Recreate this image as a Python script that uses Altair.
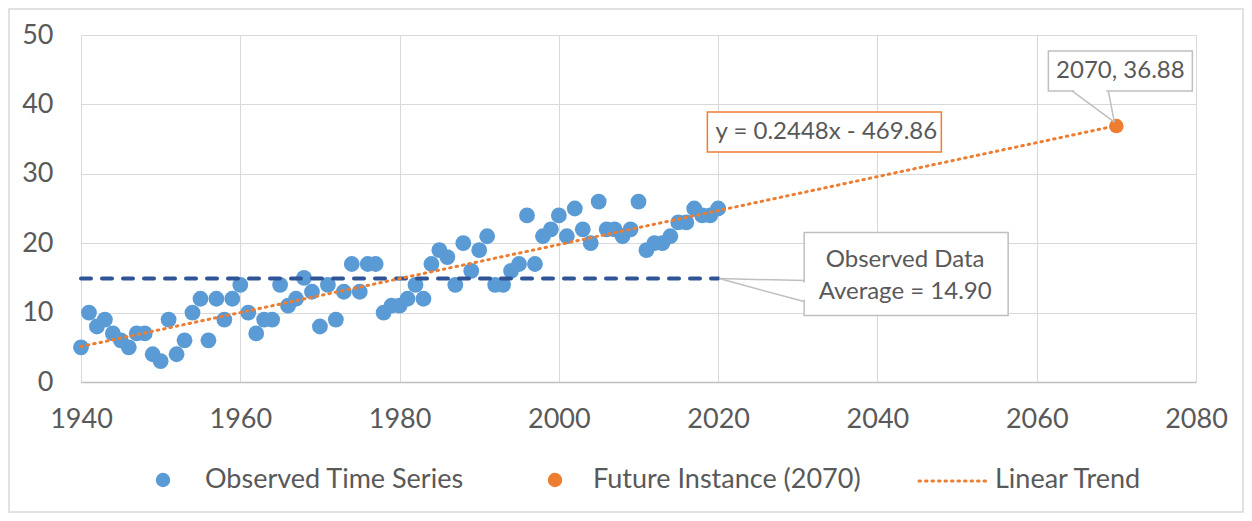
import altair as alt
import pandas as pd

# ---------------- data ----------------
years = list(range(1940, 2021))
values = [5, 10, 8, 9, 7, 6, 5, 7, 7, 4,
          3, 9, 4, 6, 10, 12, 6, 12, 9, 12,
          14, 10, 7, 9, 9, 14, 11, 12, 15, 13,
          8, 14, 9, 13, 17, 13, 17, 17, 10, 11,
          11, 12, 14, 12, 17, 19, 18, 14, 20, 16,
          19, 21, 14, 14, 16, 17, 24, 17, 21, 22,
          24, 21, 25, 22, 20, 26, 22, 22, 21, 22,
          26, 19, 20, 20, 21, 23, 23, 25, 24, 24, 25]
future_year = [2070]
future_value = [36.88]
series_names = ["Observed Time Series", "Future Instance (2070)", "Linear Trend"]
equation_text = "y = 0.2448x - 469.86"
avg_line1 = "Observed Data"
x_ticks = [1940, 1960, 1980, 2000, 2020, 2040, 2060, 2080]
y_ticks = [0, 10, 20, 30, 40, 50]

obs = pd.DataFrame({"year": years, "value": values})
fut = pd.DataFrame({"year": future_year, "value": future_value})
one = pd.DataFrame({"k": [0]})

# ---------------- styling ----------------
FONT = "Lato"
TXT = "#595959"
GRID = "#D9D9D9"
BLUE = "#5B9BD5"
ORANGE = "#ED7D31"
W, H = 1115, 347
FS = 24
AFS = 27
LFS = 27

xscale = alt.Scale(domain=[1940, 2080], nice=False, zero=False)
yscale = alt.Scale(domain=[0, 50], nice=False)
xaxis = alt.Axis(values=x_ticks, format="d", title=None, grid=True, gridColor=GRID,
                 ticks=False, domainColor="#BFBFBF", domainWidth=1.5, labelFontSize=AFS,
                 labelFont=FONT, labelColor=TXT, labelPadding=24, labelFlush=False)
yaxis = alt.Axis(values=y_ticks, title=None, grid=True, gridColor=GRID, ticks=False,
                 domain=False, labelFontSize=AFS, labelFont=FONT, labelColor=TXT,
                 labelPadding=28)


def X(f):
    return alt.X(f, scale=xscale, axis=xaxis, title=None)


def Y(f):
    return alt.Y(f, scale=yscale, axis=yaxis, title=None)


frame = alt.Chart(one).mark_rect(fill=None, stroke=GRID, strokeWidth=1.5).encode(
    x=alt.value(-72), x2=alt.value(1162), y=alt.value(-26), y2=alt.value(477))

points = alt.Chart(obs).mark_circle(size=250, opacity=1, color=BLUE).encode(
    x=X("year:Q"), y=Y("value:Q"))

avg_rule = alt.Chart(obs).mark_rule(color="#2F5597", strokeWidth=4, strokeDash=[10, 11],
                                    strokeCap="round").encode(
    x=X("min(year):Q"), x2="max(year):Q", y=Y("mean(value):Q"))

trend = alt.Chart(obs).transform_regression(
    "year", "value", method="linear", extent=[1940, 2070]
).mark_line(color=ORANGE, strokeWidth=3, strokeDash=[1.5, 5], strokeCap="round").encode(
    x=X("year:Q"), y=Y("value:Q"))

future = alt.Chart(fut).mark_circle(size=210, opacity=1, color=ORANGE).encode(
    x=X("year:Q"), y=Y("value:Q"))

# ---- callout for the future point ----
fut_lab = alt.Chart(fut).transform_calculate(
    label="format(datum.year, 'd') + ', ' + format(datum.value, '.2f')")
fenc = dict(x=X("year:Q"), x2="year:Q", y=Y("value:Q"), y2="value:Q")
fut_box = fut_lab.mark_rect(fill="white", stroke="#BFBFBF", strokeWidth=1.5,
                            xOffset=-68, x2Offset=76, yOffset=-75, y2Offset=-35).encode(**fenc)
fut_w1 = fut_lab.mark_rule(color="#BFBFBF", strokeWidth=1.5, xOffset=-2, yOffset=-4,
                           x2Offset=-44, y2Offset=-35).encode(**fenc)
fut_w2 = fut_lab.mark_rule(color="#BFBFBF", strokeWidth=1.5, xOffset=-2, yOffset=-4,
                           x2Offset=-8, y2Offset=-35).encode(**fenc)
fut_gap = fut_lab.mark_rule(color="white", strokeWidth=2.5, xOffset=-42, yOffset=-35,
                            x2Offset=-10, y2Offset=-35).encode(**fenc)
fut_text = fut_lab.mark_text(font=FONT, fontSize=FS, color=TXT, align="center",
                             baseline="middle", dx=4, dy=-55).encode(
    x=X("year:Q"), y=Y("value:Q"), text="label:N")

# ---- equation label (trendline label) ----
eq_box = alt.Chart(fut).mark_rect(fill="white", stroke=ORANGE, strokeWidth=1.5,
                                  xOffset=-409, x2Offset=-175, yOffset=-14, y2Offset=26).encode(**fenc)
eq_text = alt.Chart(fut).mark_text(font=FONT, fontSize=FS, color=TXT, align="center",
                                   baseline="middle", dx=-290, dy=6, text=equation_text).encode(
    x=X("year:Q"), y=Y("value:Q"))

# ---- callout for the average ----
avg_base = alt.Chart(obs).transform_aggregate(
    avg="mean(value)", end="max(year)"
).transform_calculate(
    line1=f"'{avg_line1}'",
    line2="'Average = ' + format(datum.avg, '.2f')")
enc_pt = dict(x=X("end:Q"), x2="end:Q", y=Y("avg:Q"), y2="avg:Q")
avg_box = avg_base.mark_rect(fill="white", stroke="#BFBFBF", strokeWidth=1.5,
                             xOffset=86, x2Offset=290, yOffset=-46, y2Offset=37).encode(**enc_pt)
avg_w1 = avg_base.mark_rule(color="#BFBFBF", strokeWidth=1.5, xOffset=1, x2Offset=86,
                            y2Offset=2).encode(**enc_pt)
avg_w2 = avg_base.mark_rule(color="#BFBFBF", strokeWidth=1.5, xOffset=1, x2Offset=86,
                            y2Offset=23).encode(**enc_pt)
avg_gap = avg_base.mark_rule(color="white", strokeWidth=2.5, xOffset=86, x2Offset=86,
                             yOffset=4, y2Offset=21).encode(**enc_pt)
avg_t1 = avg_base.mark_text(font=FONT, fontSize=FS, color=TXT, align="center",
                            baseline="middle", dx=187, dy=-19).encode(
    x=X("end:Q"), y=Y("avg:Q"), text="line1:N")
avg_t2 = avg_base.mark_text(font=FONT, fontSize=FS, color=TXT, align="center",
                            baseline="middle", dx=187, dy=13).encode(
    x=X("end:Q"), y=Y("avg:Q"), text="line2:N")

# ---- legend (drawn as marks) ----
LY = 445
leg1_sym = alt.Chart(one).mark_circle(size=210, opacity=1, color=BLUE).encode(
    x=alt.value(82), y=alt.value(LY))
leg1_txt = alt.Chart(one).mark_text(font=FONT, fontSize=LFS, color=TXT, align="left",
                                    baseline="middle", text=series_names[0]).encode(
    x=alt.value(124), y=alt.value(LY))
leg2_sym = alt.Chart(one).mark_circle(size=210, opacity=1, color=ORANGE).encode(
    x=alt.value(474), y=alt.value(LY))
leg2_txt = alt.Chart(one).mark_text(font=FONT, fontSize=LFS, color=TXT, align="left",
                                    baseline="middle", text=series_names[1]).encode(
    x=alt.value(512), y=alt.value(LY))
leg3_sym = alt.Chart(one).mark_rule(color=ORANGE, strokeWidth=3, strokeDash=[1.5, 5],
                                    strokeCap="round").encode(
    x=alt.value(838), x2=alt.value(909), y=alt.value(LY + 1))
leg3_txt = alt.Chart(one).mark_text(font=FONT, fontSize=LFS, color=TXT, align="left",
                                    baseline="middle", text=series_names[2]).encode(
    x=alt.value(914), y=alt.value(LY))

chart = alt.layer(
    frame, points, avg_rule, trend, future,
    eq_box, eq_text,
    avg_box, avg_w1, avg_w2, avg_gap, avg_t1, avg_t2,
    fut_box, fut_w1, fut_w2, fut_gap, fut_text,
    leg1_sym, leg1_txt, leg2_sym, leg2_txt, leg3_sym, leg3_txt,
).properties(
    width=W, height=H,
    autosize=alt.AutoSizeParams(type="none"),
    padding={"left": 73, "top": 27, "right": 48, "bottom": 131},
).configure_view(
    stroke=None
)

chart.save("out.html", embed_options={"renderer": "svg", "actions": False})
